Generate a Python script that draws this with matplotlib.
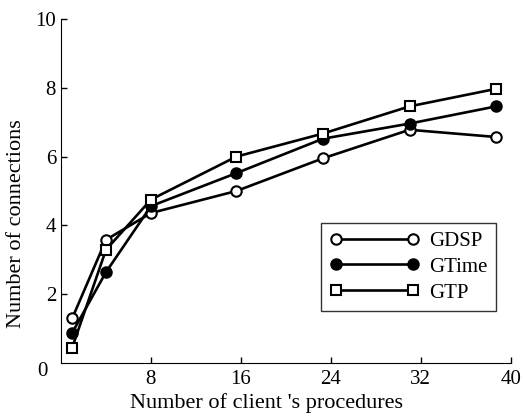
import matplotlib
matplotlib.use('Agg')
from matplotlib import pyplot as plt

plt.rcParams['font.family'] = ['Liberation Serif', 'DejaVu Serif']

procedures = [1, 4, 8, 15.6, 23.3, 31, 38.7]
gdsp = [1.3, 3.58, 4.36, 5.0, 5.95, 6.78, 6.57]
gtime = [0.88, 2.64, 4.56, 5.52, 6.52, 6.96, 7.46]
gtp = [0.45, 3.29, 4.75, 6.0, 6.67, 7.46, 7.97]

x_ticks = [8, 16, 24, 32, 40]
y_ticks = [2, 4, 6, 8, 10]

fig = plt.figure(figsize=(5.23, 4.16), dpi=100)
ax = fig.add_axes([0.1166, 0.1274, 0.8599, 0.8269])

style = dict(color='black', lw=1.9, ms=7.5, mew=1.5)
ax.plot(procedures, gdsp, 'o-', mfc='white', label='GDSP', **style)
ax.plot(procedures, gtime, 'o-', mfc='black', label='GTime', **style)
ax.plot(procedures, gtp, 's-', mfc='white', label='GTP', **style)

ax.set_xlim(0, 40)
ax.set_ylim(0, 10)
ax.set_xticks(x_ticks)
ax.set_yticks(y_ticks)
ax.spines['top'].set_visible(False)
ax.spines['right'].set_visible(False)
ax.tick_params(direction='in', length=4, labelsize=15, width=1)
ax.tick_params(axis='x', pad=5)
# the shared origin label sits at the corner, below-left
ax.text(-1.2, -0.25, '0', fontsize=15, ha='right', va='center')

ax.set_xlabel("Number of client 's procedures", fontsize=16)
ax.set_ylabel('Number of connections', fontsize=16)
ax.xaxis.set_label_coords(0.457, -0.088)
ax.yaxis.set_label_coords(-0.078, 0.404)

leg = ax.legend(loc='upper left', bbox_to_anchor=(0.578, 0.407), numpoints=2,
                handlelength=4.3, fontsize=15, frameon=True, fancybox=False,
                edgecolor='black', borderpad=0.4, labelspacing=0.3,
                handletextpad=0.5, borderaxespad=0)
leg.get_frame().set_linewidth(1)

plt.savefig('out.png', dpi=100)
